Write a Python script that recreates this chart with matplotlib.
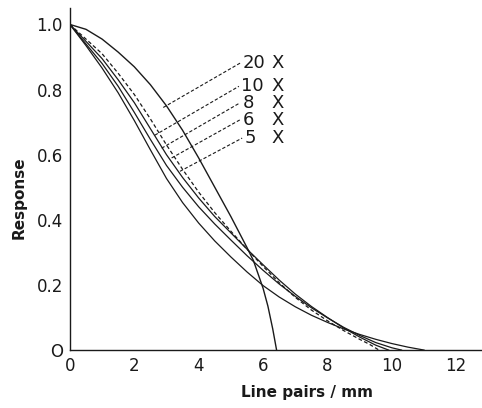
import matplotlib
matplotlib.use('Agg')
import matplotlib.pyplot as plt

# curves (line pairs/mm, response)
x_20 = [0, 0.5, 1, 1.5, 2, 2.5, 3, 3.5, 4, 4.5, 5, 5.5, 5.7, 6.0, 6.15, 6.3, 6.42]
y_20 = [1.0, 0.985, 0.955, 0.915, 0.87, 0.815, 0.75, 0.675, 0.59, 0.5, 0.41, 0.315, 0.275, 0.19, 0.135, 0.065, 0.0]

x_10 = [0, 0.5, 1, 1.5, 2, 2.5, 3, 3.5, 4, 4.5, 5, 5.5, 6, 6.5, 7, 7.5, 8, 8.5, 9, 9.3, 9.6]
y_10 = [1.0, 0.955, 0.91, 0.85, 0.785, 0.71, 0.63, 0.555, 0.485, 0.422, 0.365, 0.31, 0.257, 0.207,
        0.162, 0.123, 0.09, 0.06, 0.033, 0.018, 0.0]

x_8 = [0, 0.5, 1, 1.5, 2, 2.5, 3, 3.5, 4, 4.5, 5, 5.5, 6, 6.5, 7, 7.5, 8, 8.5, 9, 9.5, 9.9]
y_8 = [1.0, 0.948, 0.895, 0.83, 0.76, 0.68, 0.60, 0.53, 0.467, 0.41, 0.36, 0.31, 0.262, 0.215,
       0.172, 0.134, 0.10, 0.068, 0.04, 0.015, 0.0]

x_6 = [0, 0.5, 1, 1.5, 2, 2.5, 3, 3.5, 4, 4.5, 5, 5.5, 6, 6.5, 7, 7.5, 8, 8.5, 9, 9.5, 10, 10.3]
y_6 = [1.0, 0.94, 0.88, 0.81, 0.73, 0.647, 0.567, 0.5, 0.44, 0.387, 0.338, 0.29, 0.245, 0.203,
       0.165, 0.13, 0.099, 0.07, 0.045, 0.023, 0.007, 0.0]

x_5 = [0, 0.5, 1, 1.5, 2, 2.5, 3, 3.5, 4, 4.5, 5, 5.5, 6, 6.5, 7, 7.5, 8, 8.5, 9, 9.5, 10, 10.5, 11.0]
y_5 = [1.0, 0.935, 0.866, 0.79, 0.705, 0.615, 0.527, 0.453, 0.39, 0.335, 0.286, 0.24, 0.198, 0.163,
       0.133, 0.107, 0.085, 0.065, 0.048, 0.033, 0.02, 0.009, 0.0]

labels = ['20', '10', '8', '6', '5']
# where each leader line touches the curves, and where it ends at the label
lead_from = [(2.9, 0.745), (2.64, 0.66), (2.85, 0.62), (3.16, 0.59), (3.42, 0.549)]
lead_to = [(5.3, 0.882), (5.25, 0.81), (5.28, 0.759), (5.3, 0.708), (5.35, 0.651)]

xticks = [0, 2, 4, 6, 8, 10, 12]
yticks = [0, 0.2, 0.4, 0.6, 0.8, 1.0]
ytick_labels = ['O', '0.2', '0.4', '0.6', '0.8', '1.0']

ink = '#1a1a1a'

fig = plt.figure(figsize=(4.82, 4.08), dpi=100)
ax = fig.add_axes([0.145, 0.142, 0.855, 0.838])

ax.plot(x_20, y_20, color=ink, lw=1.0)
ax.plot(x_10, y_10, color=ink, lw=0.9, ls=(0, (3, 2)))
ax.plot(x_8, y_8, color=ink, lw=0.9)
ax.plot(x_6, y_6, color=ink, lw=0.9)
ax.plot(x_5, y_5, color=ink, lw=0.9)

for lab, p0, p1 in zip(labels, lead_from, lead_to):
    ax.plot([p0[0], p1[0]], [p0[1], p1[1]], color=ink, lw=0.8, ls=(0, (3, 1.8)))
    ax.text(p1[0] + 0.08, p1[1], lab, fontsize=13, color=ink, va='center', ha='left')
    ax.text(6.25, p1[1], 'X', fontsize=13, color=ink, va='center', ha='left')

ax.set_xlim(0, 12.8)
ax.set_ylim(0, 1.05)
ax.set_xticks(xticks)
ax.set_xticklabels([str(t) for t in xticks])
ax.set_yticks(yticks)
ax.set_yticklabels(ytick_labels)
ax.tick_params(length=0, labelsize=12, colors=ink, pad=5)

for s in ['top', 'right']:
    ax.spines[s].set_visible(False)
for s in ['left', 'bottom']:
    ax.spines[s].set_linewidth(1.0)
    ax.spines[s].set_color(ink)

fig.text(0.04, 0.515, 'Response', rotation=90, fontsize=11, fontweight='bold',
         color=ink, ha='center', va='center')
fig.text(0.637, 0.037, 'Line pairs / mm', fontsize=11, fontweight='bold',
         color=ink, ha='center', va='center')

fig.savefig('out.png', dpi=100)
